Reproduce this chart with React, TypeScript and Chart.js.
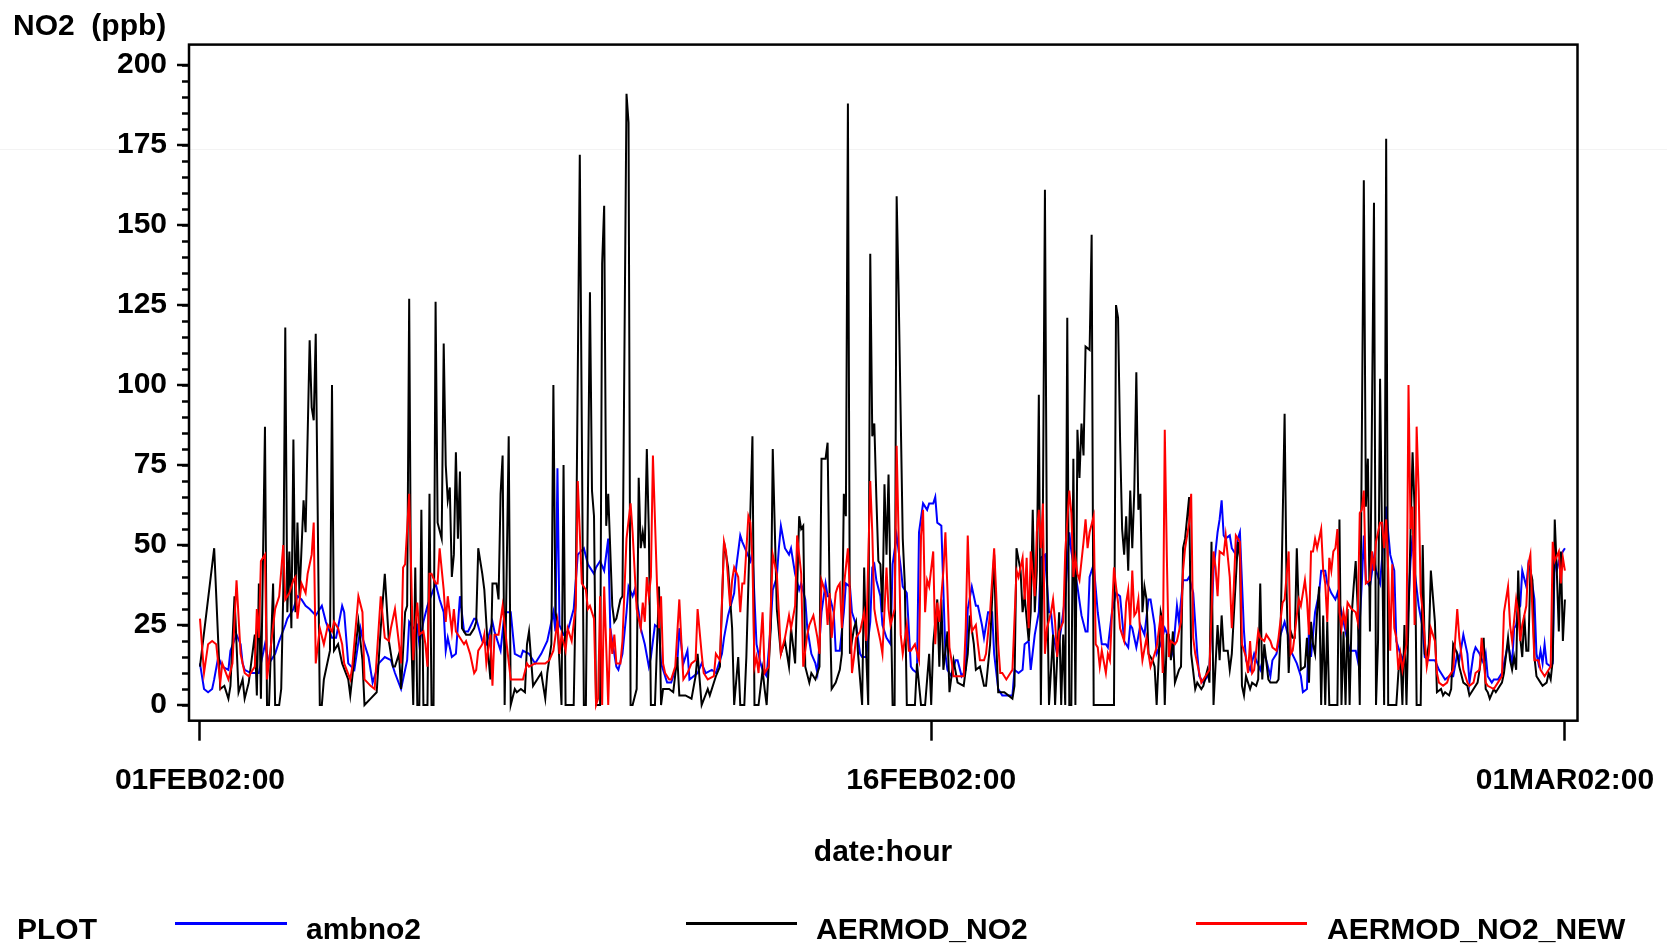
import { useEffect, useRef } from 'react';
import { Chart, registerables, Plugin } from 'chart.js';

Chart.register(...registerables);

// x is hours after 01FEB2002 00:00, y is NO2 in ppb
const tickHours = [0, 360, 672];
const tickLabels = ['01FEB02:00', '16FEB02:00', '01MAR02:00'];
const yMajorTicks = [0, 25, 50, 75, 100, 125, 150, 175, 200];

const seriesNames = ['ambno2', 'AERMOD_NO2', 'AERMOD_NO2_NEW'];
const seriesColors = ['#0000ff', '#000000', '#ff0000'];

const ambno2: [number, number][] = [
  [0, 13], [2, 5], [4, 4], [6, 5], [7, 8], [9, 15], [11, 12], [14, 11], [15, 17], [18, 22], [20, 19], [21, 13], [22, 11],
  [25, 10], [29, 10], [32, 19], [34, 13], [37, 16], [39, 20], [42, 25], [43, 27], [46, 30], [48, 34], [50, 33], [52, 31],
  [54, 30], [57, 28], [60, 31], [62, 26], [65, 21], [67, 21], [70, 31], [71, 29], [73, 13], [76, 11], [79, 24], [80, 21],
  [83, 15], [85, 7], [88, 13], [91, 15], [94, 14],
  [96, 10], [99, 5], [102, 14], [103, 26], [105, 24], [107, 25], [108, 19], [110, 26], [112, 31], [116, 38], [118, 33],
  [120, 29], [121, 17], [122, 21], [124, 15], [126, 16], [128, 34], [130, 23], [132, 23], [135, 27], [136, 27], [139, 20],
  [141, 19], [144, 26], [145, 23], [148, 17], [150, 29], [153, 29], [155, 16], [158, 15], [159, 17], [162, 16], [165, 13],
  [168, 16], [171, 20], [174, 29], [175, 23], [176, 74], [177, 25], [179, 22], [181, 23], [184, 30], [186, 47], [189, 49],
  [191, 44], [194, 41], [195, 43], [197, 45], [199, 42], [201, 52],
  [202, 24], [204, 16], [205, 12], [206, 11], [208, 16], [210, 29], [211, 37], [213, 34], [214, 36], [216, 29], [217, 24],
  [219, 19], [221, 12], [222, 15], [224, 25], [226, 24], [227, 13], [230, 7], [232, 7], [235, 13], [236, 24], [238, 13],
  [240, 17], [241, 8], [245, 10], [247, 13], [249, 10], [252, 11], [254, 10], [257, 16], [258, 21], [260, 28], [263, 35],
  [264, 43], [266, 53], [267, 51], [269, 48], [271, 45], [272, 48], [274, 19], [276, 13], [277, 11], [279, 9], [281, 25],
  [282, 36], [284, 40], [285, 49], [286, 56], [288, 49], [290, 47], [291, 49], [293, 41], [295, 36], [296, 38], [298, 33],
  [299, 24], [301, 16], [303, 13], [304, 10], [306, 29], [308, 38], [309, 34],
  [310, 34], [312, 29], [313, 17], [315, 17], [317, 29], [318, 38], [320, 37], [321, 29], [323, 25], [325, 16], [326, 15],
  [328, 15], [330, 26], [331, 43], [332, 44], [333, 39], [335, 34], [336, 25], [338, 21], [340, 19], [341, 44], [343, 53],
  [345, 43], [346, 37], [348, 35], [350, 12], [351, 11], [353, 10], [354, 54], [356, 63], [358, 61], [359, 63], [361, 63],
  [362, 65], [363, 57], [365, 56], [367, 16], [368, 11], [370, 9], [372, 14], [373, 14], [375, 9], [377, 11], [378, 30],
  [380, 37], [382, 31], [383, 31], [385, 25], [386, 21], [388, 29], [390, 29], [391, 16], [393, 5], [395, 3], [398, 3],
  [400, 3], [401, 11], [403, 10], [405, 11], [406, 19], [408, 20], [409, 11], [411, 22], [413, 29], [414, 46], [416, 47],
  [418, 29],
  [419, 29], [420, 22], [422, 16], [424, 24], [426, 34], [428, 54], [429, 48], [432, 37], [434, 28], [436, 23], [437, 23],
  [438, 40], [440, 44], [442, 29], [444, 19], [446, 19], [447, 18], [449, 29], [451, 35], [453, 34], [455, 20], [457, 18],
  [458, 25], [459, 24], [461, 18], [463, 25], [465, 22], [467, 33], [468, 33], [470, 25], [471, 16], [473, 19], [475, 24],
  [477, 21], [479, 16], [481, 31], [482, 26], [484, 39], [486, 39], [487, 40], [489, 35], [491, 16], [492, 9], [494, 7],
  [496, 9], [497, 11], [499, 42], [501, 54], [502, 58], [503, 64], [504, 53], [505, 52], [507, 53], [508, 49], [510, 47],
  [511, 52], [512, 54], [514, 23], [515, 14], [517, 11], [519, 16], [520, 14], [522, 11], [524, 16], [525, 14], [527, 9],
  [528, 14], [530, 16], [532, 22], [534, 26], [536, 21], [537, 17], [540, 13], [542, 9], [543, 4], [545, 5], [546, 24],
  [547, 15], [549, 29], [551, 35], [552, 42], [554, 42], [555, 38], [557, 35], [559, 33], [560, 35], [562, 29], [564, 23],
  [566, 17], [569, 17], [570, 14], [572, 38], [573, 53], [574, 39], [576, 37], [578, 46], [579, 42], [581, 38], [583, 54],
  [584, 62], [585, 54], [586, 47], [588, 42], [589, 20], [591, 16], [592, 14], [594, 19], [596, 45], [597, 53], [598, 42],
  [600, 31], [602, 24], [603, 15], [605, 14], [606, 14], [608, 14], [610, 11], [611, 10], [613, 8], [615, 9], [617, 9],
  [619, 16], [620, 14], [622, 22], [624, 16], [625, 7], [627, 16], [628, 18],
  [630, 16], [632, 13], [633, 16], [634, 9], [636, 7], [637, 8], [639, 8], [641, 10], [642, 13], [644, 19], [646, 13],
  [647, 24], [648, 25], [649, 30], [650, 31], [651, 42], [653, 37], [654, 44], [655, 42], [657, 33], [658, 16], [659, 13],
  [660, 17], [661, 13], [662, 19], [663, 13], [665, 12], [666, 13], [667, 48], [668, 42], [669, 45], [671, 48], [672, 49],
];

const aermodNo2: [number, number][] = [
  [0, 12], [7, 49], [10, 5], [12, 6], [14, 2], [15, 6], [17, 34], [19, 4], [21, 8], [22, 2], [24, 7], [27, 22], [28, 3],
  [29, 38], [30, 2], [32, 87], [33, 0], [34, 0], [36, 38], [37, 0], [39, 0], [40, 5], [41, 35], [42, 118], [43, 29],
  [44, 48], [45, 24], [46, 83], [47, 29], [48, 57], [49, 34], [51, 64], [52, 54], [54, 114], [55, 93], [56, 89], [57, 116],
  [59, 0], [60, 0], [61, 8], [64, 17], [65, 100], [66, 17], [68, 19], [70, 13], [73, 8], [74, 3], [78, 26], [80, 14],
  [81, 0], [84, 2], [87, 4], [89, 24], [91, 41], [93, 20], [94, 16], [95, 12],
  [96, 12], [98, 16], [99, 5], [101, 29], [102, 31], [103, 127], [104, 22], [105, 0], [106, 43], [107, 0], [108, 0],
  [109, 61], [110, 0], [112, 0], [113, 66], [114, 0], [115, 0], [116, 126], [117, 57], [119, 52], [120, 113], [121, 75],
  [122, 64], [123, 68], [124, 40], [125, 47], [126, 79], [127, 52], [128, 73], [129, 24], [131, 22], [133, 22], [135, 24],
  [136, 26], [137, 49], [139, 41], [140, 36], [142, 15], [143, 8], [144, 38], [146, 38], [147, 33], [148, 66], [149, 78],
  [150, 0], [152, 84], [153, 0], [155, 5], [156, 4], [158, 5], [160, 4], [161, 19], [162, 23], [164, 6], [166, 8],
  [168, 10], [170, 2], [171, 10], [173, 19], [174, 100], [175, 29], [176, 26], [178, 0], [179, 75], [180, 0], [184, 0],
  [185, 35], [187, 172], [189, 0], [190, 0], [192, 129], [193, 67], [194, 59], [195, 0], [197, 0], [198, 138], [199, 156],
  [200, 56], [201, 66],
  [203, 31], [204, 26], [205, 27], [207, 33], [208, 34], [210, 191], [211, 182], [212, 0], [213, 0], [215, 5], [216, 71],
  [217, 49], [218, 54], [219, 49], [220, 80], [221, 54], [222, 0], [224, 0], [226, 37], [227, 0], [228, 5], [231, 5],
  [233, 4], [235, 15], [236, 3], [239, 3], [242, 2], [244, 9], [245, 16], [247, 0], [250, 5], [251, 3], [254, 9],
  [256, 12], [258, 51], [260, 43], [262, 24], [263, 0], [265, 15], [266, 0], [268, 0], [269, 15], [272, 84], [273, 0],
  [275, 0], [277, 11], [278, 5], [279, 0], [281, 24], [282, 80], [284, 30], [286, 16], [288, 20], [290, 12], [291, 24],
  [293, 13], [295, 59], [296, 55], [297, 56], [298, 12], [300, 7], [301, 10], [303, 8], [305, 12], [306, 77], [308, 77],
  [309, 82], [310, 34],
  [311, 5], [313, 7], [315, 11], [316, 16], [317, 66], [318, 59], [319, 188], [320, 16], [322, 24], [323, 26], [324, 16],
  [326, 0], [327, 43], [328, 16], [329, 0], [330, 141], [331, 84], [332, 88], [333, 65], [334, 45], [335, 44], [336, 29],
  [337, 69], [338, 47], [339, 72], [341, 0], [342, 0], [343, 159], [344, 128], [346, 52], [347, 38], [348, 0], [352, 0],
  [353, 13], [355, 0], [357, 0], [359, 16], [360, 0], [361, 19], [363, 33], [364, 12], [365, 33], [366, 11], [368, 23],
  [369, 4], [371, 14], [373, 7], [376, 6], [378, 16], [379, 28], [381, 19], [382, 11], [384, 12], [386, 6], [387, 6],
  [389, 19], [391, 47], [392, 20], [393, 4], [396, 4], [400, 2], [401, 6], [402, 49], [404, 42], [405, 29], [406, 34],
  [408, 20], [409, 29], [410, 61], [411, 29], [412, 42], [413, 97], [414, 0], [415, 61], [416, 161], [417, 42], [418, 0],
  [420, 22], [421, 0], [423, 29], [424, 0], [425, 22], [426, 0], [427, 121], [428, 0], [429, 0], [430, 77], [431, 0],
  [432, 86], [433, 71], [434, 88], [435, 78], [436, 112], [438, 111], [439, 147], [440, 0], [450, 0], [451, 125],
  [452, 121], [453, 83], [454, 55], [455, 47], [456, 59], [457, 42], [458, 67], [459, 49], [460, 67], [461, 104], [462, 61],
  [463, 66], [464, 29], [465, 37], [466, 33], [467, 16], [469, 14], [470, 12], [471, 0], [473, 29], [474, 26], [475, 0],
  [476, 22], [477, 22], [478, 14], [479, 23], [480, 7], [482, 11], [483, 12], [484, 49], [485, 52], [487, 65], [488, 16],
  [490, 5], [491, 7], [493, 5], [494, 6], [496, 11], [497, 7], [498, 51], [499, 0], [501, 25], [502, 14], [503, 28],
  [504, 17], [506, 17], [507, 11], [508, 16], [509, 28], [511, 51], [512, 46], [513, 6], [514, 3], [515, 9], [517, 5],
  [518, 7], [520, 6], [521, 8], [522, 38], [523, 8], [524, 19], [526, 8],
  [527, 7], [528, 7], [530, 7], [531, 8], [532, 22], [534, 91], [535, 35], [536, 10], [537, 23], [538, 21], [539, 21],
  [540, 49], [541, 29], [542, 11], [544, 12], [545, 21], [546, 7], [547, 26], [548, 19], [549, 16], [550, 29], [551, 37],
  [552, 0], [553, 28], [554, 0], [555, 26], [556, 0], [560, 0], [561, 58], [562, 0], [563, 23], [564, 0], [565, 30],
  [566, 0], [567, 28], [568, 37], [569, 45], [570, 30], [571, 0], [573, 164], [574, 62], [575, 77], [576, 23], [578, 157],
  [579, 0], [580, 20], [581, 102], [583, 0], [584, 177], [585, 0], [589, 0], [590, 10], [591, 16], [592, 0], [593, 25],
  [594, 0], [596, 54], [597, 79], [598, 61], [599, 0], [601, 0], [602, 50], [603, 16], [604, 15], [605, 19], [606, 42],
  [608, 26], [609, 4], [611, 5], [612, 3], [613, 4], [615, 3], [616, 5], [617, 19], [619, 16], [620, 12], [622, 7],
  [624, 6], [625, 3], [627, 5], [629, 7],
  [630, 11], [632, 21], [633, 5], [634, 4], [635, 2], [637, 5], [638, 4], [640, 6], [641, 7], [642, 10], [644, 21],
  [645, 14], [646, 11], [647, 15], [648, 11], [649, 42], [650, 21], [651, 15], [652, 28], [653, 17], [654, 17], [655, 42],
  [656, 39], [657, 15], [658, 9], [660, 7], [661, 6], [663, 7], [664, 10], [665, 8], [666, 14], [667, 58], [668, 42],
  [669, 23], [670, 48], [671, 20], [672, 33],
];

const aermodNo2New: [number, number][] = [
  [0, 27], [2, 10], [4, 19], [6, 20], [8, 19], [10, 7], [11, 13], [14, 8], [16, 13], [18, 39], [20, 16], [22, 10], [24, 9],
  [27, 12], [28, 30], [29, 21], [30, 45], [32, 47], [33, 8], [35, 19], [37, 30], [39, 34], [41, 50], [42, 33], [44, 35],
  [46, 39], [47, 40], [48, 27], [50, 38], [52, 35], [53, 41], [55, 47], [56, 57], [57, 13], [59, 24], [61, 19], [63, 25],
  [65, 23], [66, 26], [68, 24], [70, 19], [71, 13], [74, 8], [75, 12], [78, 34], [80, 29], [81, 8], [84, 6], [86, 5],
  [89, 34], [91, 21], [93, 20], [94, 24],
  [96, 30], [98, 19], [99, 13], [100, 43], [101, 44], [103, 66], [104, 41], [105, 14], [106, 25], [107, 32], [108, 22],
  [110, 23], [111, 19], [112, 12], [113, 41], [114, 41], [116, 38], [117, 38], [118, 49], [120, 36], [121, 26], [122, 34],
  [124, 23], [125, 30], [126, 23], [128, 21], [130, 19], [131, 20], [133, 16], [135, 10], [136, 11], [137, 17], [139, 19],
  [140, 22], [141, 13], [143, 22], [144, 6], [145, 22], [147, 22], [149, 31], [150, 25], [151, 19], [153, 8], [155, 8],
  [157, 8], [159, 8], [161, 13], [162, 12], [165, 13], [167, 13], [170, 13], [172, 14], [174, 17], [176, 26], [177, 16],
  [178, 22], [180, 17], [181, 24], [183, 20], [185, 31], [186, 70], [188, 38], [190, 36], [191, 30], [192, 31], [194, 27],
  [195, 0], [196, 2], [197, 34], [198, 0], [199, 37], [201, 0],
  [202, 24], [203, 16], [204, 22], [205, 13], [207, 13], [208, 20], [210, 52], [212, 63], [213, 54], [215, 30], [217, 24],
  [218, 32], [219, 26], [220, 40], [221, 34], [222, 40], [223, 78], [225, 38], [226, 24], [227, 34], [228, 13], [229, 10],
  [231, 8], [232, 8], [234, 12], [236, 33], [237, 20], [238, 8], [240, 10], [242, 13], [244, 14], [245, 30], [247, 16],
  [248, 10], [250, 8], [253, 9], [254, 16], [256, 14], [258, 51], [259, 48], [261, 31], [262, 39], [263, 43], [265, 40],
  [266, 29], [267, 38], [268, 38], [270, 59], [271, 57], [272, 45], [273, 12], [274, 15], [275, 10], [277, 29], [278, 10],
  [280, 12], [281, 30], [282, 47], [284, 41], [285, 29], [286, 16], [288, 21], [290, 28], [291, 24], [293, 31], [294, 53],
  [296, 41], [297, 12], [299, 22], [300, 25], [302, 28], [304, 21], [305, 16], [306, 39], [308, 35], [309, 25],
  [310, 35], [311, 21], [313, 35], [314, 37], [315, 38], [316, 24], [317, 37], [319, 49], [320, 35], [321, 10], [322, 15],
  [323, 21], [325, 23], [327, 29], [328, 20], [330, 70], [331, 54], [332, 30], [333, 26], [335, 20], [336, 16], [338, 43],
  [339, 30], [340, 25], [342, 30], [343, 81], [345, 22], [346, 16], [348, 25], [349, 17], [350, 17], [352, 19], [354, 14],
  [355, 53], [356, 61], [357, 29], [358, 39], [359, 37], [361, 48], [362, 19], [363, 32], [364, 26], [366, 42], [367, 54],
  [369, 18], [370, 14], [371, 9], [373, 9], [374, 9], [376, 9], [377, 24], [378, 53], [379, 34], [380, 23], [382, 25],
  [383, 19], [384, 14], [386, 14], [387, 16], [389, 29], [391, 49], [392, 35], [393, 19], [394, 10], [395, 10], [397, 8],
  [399, 10], [400, 11], [402, 42], [403, 40], [405, 46], [406, 33], [407, 46], [408, 24], [409, 48], [411, 34], [412, 54],
  [413, 61], [414, 49], [415, 63], [416, 16], [417, 24],
  [419, 29], [420, 33], [421, 26], [422, 15], [423, 23], [425, 26], [426, 48], [428, 67], [429, 60], [430, 40], [431, 46],
  [432, 41], [433, 39], [435, 51], [436, 58], [437, 49], [438, 54], [440, 59], [441, 19], [442, 18], [443, 12], [444, 17],
  [446, 10], [447, 16], [448, 14], [450, 43], [451, 37], [452, 32], [453, 24], [455, 20], [456, 32], [457, 36], [458, 25],
  [459, 42], [460, 28], [461, 29], [462, 33], [463, 21], [464, 14], [466, 21], [467, 16], [468, 12], [469, 14], [471, 18],
  [473, 28], [474, 10], [475, 86], [476, 47], [477, 15], [478, 20], [480, 19], [481, 20], [483, 26], [484, 42], [485, 49],
  [487, 57], [488, 66], [489, 21], [490, 16], [492, 10], [493, 7], [495, 9], [497, 11], [498, 29], [499, 48], [500, 43],
  [501, 34], [502, 48], [504, 47], [505, 53], [507, 40], [508, 24], [509, 37], [510, 53], [512, 51], [513, 19], [515, 15],
  [516, 10], [517, 20], [518, 10], [519, 11], [521, 23], [522, 21], [524, 20], [525, 22],
  [527, 20], [528, 18], [530, 17], [531, 21], [533, 32], [534, 33], [536, 48], [537, 16], [538, 17], [539, 22], [540, 28],
  [541, 33], [542, 31], [544, 39], [545, 33], [546, 22], [547, 48], [548, 48], [549, 52], [550, 49], [551, 52], [552, 55],
  [553, 42], [554, 38], [555, 26], [556, 46], [557, 42], [558, 48], [559, 49], [560, 55], [561, 29], [562, 24], [563, 29],
  [564, 25], [565, 32], [567, 30], [569, 29], [570, 26], [571, 60], [572, 61], [573, 67], [574, 38], [576, 39], [577, 48],
  [578, 42], [579, 51], [581, 57], [582, 57], [583, 49], [584, 58], [585, 42], [586, 17], [587, 44], [588, 24], [589, 21],
  [590, 11], [591, 16], [592, 11], [594, 19], [595, 100], [596, 55], [597, 62], [598, 25], [599, 87], [600, 67], [601, 35],
  [602, 29], [604, 12], [605, 16], [606, 24], [608, 20], [609, 10], [610, 7], [612, 6], [614, 7], [615, 9], [617, 11],
  [619, 30], [620, 21], [622, 11], [624, 7], [625, 6], [627, 7], [628, 10],
  [630, 11], [631, 21], [633, 7], [634, 6], [637, 5], [639, 7], [641, 9], [642, 29], [644, 37], [645, 25], [646, 20],
  [648, 33], [649, 29], [650, 20], [651, 25], [653, 31], [654, 44], [655, 47], [656, 29], [657, 14], [659, 14], [660, 11],
  [662, 9], [664, 11], [665, 12], [666, 51], [667, 45], [669, 48], [670, 38], [671, 46], [672, 42],
];

const FONT = '"Liberation Sans", Arial, Helvetica, sans-serif';

// SAS style frame round the plot area, plus the longer marks at labelled y ticks
const framePlugin: Plugin<'line'> = {
  id: 'sasFrame',
  afterDraw(chart) {
    const { ctx, chartArea: a, scales } = chart;
    ctx.save();
    ctx.strokeStyle = '#000';
    ctx.lineWidth = 2.5;
    ctx.beginPath();
    for (const v of yMajorTicks) {
      const y = scales.y.getPixelForValue(v);
      ctx.moveTo(a.left - 12, y);
      ctx.lineTo(a.left, y);
    }
    ctx.stroke();
    ctx.strokeRect(a.left, a.top, a.right - a.left, a.bottom - a.top);
    ctx.restore();
  },
};

const toXY = (rows: [number, number][]) => rows.map(([x, y]) => ({ x, y }));

export default function App() {
  const canvasRef = useRef<HTMLCanvasElement>(null);

  useEffect(() => {
    if (!canvasRef.current) return;

    const series = [ambno2, aermodNo2, aermodNo2New];
    const chart = new Chart(canvasRef.current, {
      type: 'line',
      data: {
        datasets: series.map((rows, i) => ({
          label: seriesNames[i],
          data: toXY(rows),
          borderColor: seriesColors[i],
          borderWidth: 2,
          pointRadius: 0,
          tension: 0,
          order: 3 - i,
        })),
      },
      options: {
        animation: false,
        responsive: false,
        events: [],
        layout: { padding: { left: 0, top: 44.6, right: 89.5, bottom: 147.3 } },
        plugins: { legend: { display: false }, tooltip: { enabled: false } },
        scales: {
          x: {
            type: 'linear',
            min: -5.4,
            max: 678.2,
            afterBuildTicks: (scale) => {
              scale.ticks = tickHours.map((value) => ({ value }));
            },
            afterFit: (scale) => {
              scale.height = 80;
              // the end labels may spill past the frame, as in the original
              scale.paddingLeft = 0;
              scale.paddingRight = 0;
            },
            border: { display: false },
            grid: { drawOnChartArea: false, drawTicks: true, tickLength: 20, tickWidth: 2.5, tickColor: '#000' },
            ticks: {
              autoSkip: false,
              maxRotation: 0,
              minRotation: 0,
              padding: 22,
              color: '#000',
              font: { family: FONT, size: 30, weight: 'bold' },
              callback: (value) => {
                const i = tickHours.indexOf(Number(value));
                return i >= 0 ? tickLabels[i] : '';
              },
            },
          },
          y: {
            type: 'linear',
            min: -4.9,
            max: 206.4,
            afterBuildTicks: (scale) => {
              scale.ticks = scale.ticks.filter((t) => t.value >= 0 && t.value <= 200);
            },
            afterFit: (scale) => {
              scale.width = 189;
              scale.paddingTop = 0;
              scale.paddingBottom = 0;
            },
            border: { display: false },
            grid: { drawOnChartArea: false, drawTicks: true, tickLength: 7, tickWidth: 2.5, tickColor: '#000' },
            ticks: {
              stepSize: 5,
              includeBounds: false,
              autoSkip: false,
              padding: 15,
              color: '#000',
              font: { family: FONT, size: 30, weight: 'bold' },
              callback: (value) => (yMajorTicks.includes(Number(value)) ? String(value) : ''),
            },
          },
        },
      },
      plugins: [framePlugin],
    });

    return () => chart.destroy();
  }, []);

  const text = { position: 'absolute' as const, whiteSpace: 'pre' as const };

  return (
    <div
      style={{
        position: 'fixed',
        left: 0,
        top: 0,
        width: 1667,
        height: 948,
        background: '#fff',
        overflow: 'hidden',
        fontFamily: FONT,
        fontWeight: 'bold',
        fontSize: 30,
        lineHeight: '30px',
        color: '#000',
      }}
    >
      <div style={{ position: 'absolute', left: 0, top: 149, width: 1667, height: 1, background: '#f3f3f3' }} />
      <canvas
        ref={canvasRef}
        width={1667}
        height={948}
        style={{ position: 'absolute', left: 0, top: 0, width: 1667, height: 948 }}
      />
      <div style={{ ...text, left: 13, top: 9.6 }}>NO2  (ppb)</div>
      <div style={{ ...text, left: 189, width: 1388, top: 835.6, textAlign: 'center' }}>date:hour</div>

      <div style={{ ...text, left: 17, top: 913.6 }}>PLOT</div>
      <div style={{ position: 'absolute', left: 175, top: 922, width: 112, height: 2.5, background: seriesColors[0] }} />
      <div style={{ ...text, left: 306, top: 913.6 }}>{seriesNames[0]}</div>
      <div style={{ position: 'absolute', left: 686, top: 922, width: 111, height: 2.5, background: seriesColors[1] }} />
      <div style={{ ...text, left: 816, top: 913.6 }}>{seriesNames[1]}</div>
      <div style={{ position: 'absolute', left: 1196, top: 922, width: 111, height: 2.5, background: seriesColors[2] }} />
      <div style={{ ...text, left: 1327, top: 913.6 }}>{seriesNames[2]}</div>
    </div>
  );
}
